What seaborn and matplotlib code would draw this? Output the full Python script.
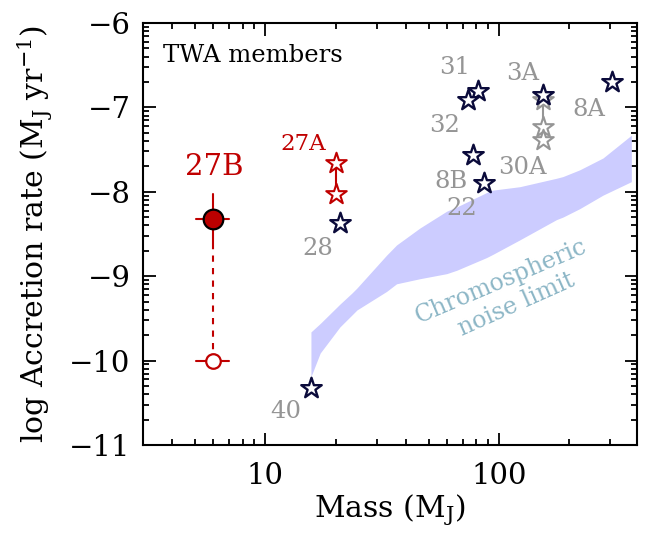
import numpy as np
import pandas as pd
import matplotlib
matplotlib.use("Agg")
import matplotlib.pyplot as plt
from matplotlib.ticker import FixedLocator, NullFormatter, LogLocator
import seaborn as sns

# --- data -----------------------------------------------------------------
# TWA members with accretion-rate measurements (mass in M_J, log Mdot in M_J/yr)
member_mass = [81.2, 73.7, 153.8, 304.0, 77.4, 86.3, 20.9, 15.7]
member_logmdot = [-6.81, -6.91, -6.85, -6.70, -7.56, -7.90, -8.37, -10.32]

# additional epochs of TWA 3A
twa3a_mass = [153.8, 153.8, 153.8]
twa3a_logmdot = [-6.91, -7.23, -7.39]

# TWA 27A (two estimates)
twa27a_mass = [20.0, 20.0]
twa27a_logmdot = [-7.66, -8.03]

# TWA 27B: measured value with error bars, and lower estimate
twa27b_mass = 6.0
twa27b_logmdot = -8.32
twa27b_yerr = 0.29
twa27b_mass_lo, twa27b_mass_hi = 5.04, 7.03
twa27b_low_logmdot = -10.0

# chromospheric noise limit band
band_mass = [15.7, 17.2, 20.9, 23.5, 24.7, 33.1, 36.5, 45.9, 59.8, 66.0, 88.5,
             94.5, 122.9, 176.4, 188.0, 221.9, 279.0, 369.0]
band_upper = [-9.66, -9.56, -9.33, -9.20, -9.14, -8.75, -8.63, -8.43, -8.23,
              -8.18, -8.01, -7.98, -7.94, -7.84, -7.82, -7.74, -7.60, -7.33]
band_lower = [-10.19, -9.91, -9.60, -9.46, -9.40, -9.18, -9.09, -9.03, -8.97,
              -8.93, -8.78, -8.74, -8.57, -8.33, -8.30, -8.20, -8.04, -7.88]

# labels: text, mass, log Mdot
gray_labels = [("31", 64.9, -6.53), ("3A", 126.6, -6.60), ("8A", 242.4, -7.02),
               ("32", 58.7, -7.22), ("30A", 126.6, -7.71), ("8B", 62.4, -7.88),
               ("22", 69.5, -8.20), ("28", 16.85, -8.67), ("40", 12.3, -10.60)]

NAVY = "#0b0b3b"
GRAY = "#959595"
RED = "#c00000"
BAND = "#ccccff"
TEAL = "#8cb6c6"

# --- figure -----------------------------------------------------------------
sns.set_style("white")
plt.rcParams["font.family"] = ["DejaVu Serif"]
plt.rcParams["mathtext.fontset"] = "dejavuserif"

fig = plt.figure(figsize=(6.47, 5.33), dpi=100)
ax = fig.add_axes([0.221, 0.165, 0.7635, 0.792])
ax.set_xscale("log")

band = pd.DataFrame({"mass": band_mass, "upper": band_upper, "lower": band_lower})
ax.fill_between(band["mass"], band["lower"], band["upper"], color=BAND,
                linewidth=0, zorder=1)

# TWA 3A extra epochs joined by a line
sns.lineplot(x=twa3a_mass, y=twa3a_logmdot, color=GRAY, lw=1.5, ax=ax,
             sort=False, estimator=None, zorder=2)
sns.scatterplot(x=twa3a_mass, y=twa3a_logmdot, marker="*", s=240,
                facecolor="white", edgecolor=GRAY, linewidth=1.5, ax=ax, zorder=3)

# TWA 27A
sns.lineplot(x=twa27a_mass, y=twa27a_logmdot, color=RED, lw=1.5, ax=ax,
             sort=False, estimator=None, zorder=2)
sns.scatterplot(x=twa27a_mass, y=twa27a_logmdot, marker="*", s=240,
                facecolor="white", edgecolor=RED, linewidth=1.5, ax=ax, zorder=3)

# other members
sns.scatterplot(x=member_mass, y=member_logmdot, marker="*", s=240,
                facecolor="white", edgecolor=NAVY, linewidth=1.7, ax=ax, zorder=4)

# TWA 27B
ax.plot([twa27b_mass, twa27b_mass],
        [twa27b_logmdot - twa27b_yerr, twa27b_low_logmdot],
        color=RED, lw=1.5, ls=(0, (3, 3)), zorder=2)
ax.plot([twa27b_mass, twa27b_mass],
        [twa27b_logmdot - twa27b_yerr, twa27b_logmdot + twa27b_yerr],
        color=RED, lw=1.5, zorder=2)
for yv in (twa27b_logmdot, twa27b_low_logmdot):
    ax.plot([twa27b_mass_lo, twa27b_mass_hi], [yv, yv], color=RED, lw=1.5, zorder=2)
sns.scatterplot(x=[twa27b_mass], y=[twa27b_low_logmdot], s=110, marker="o",
                facecolor="white", edgecolor=RED, linewidth=1.6, ax=ax, zorder=5)
sns.scatterplot(x=[twa27b_mass], y=[twa27b_logmdot], s=200, marker="o",
                facecolor="#bb0000", edgecolor="black", linewidth=1.6, ax=ax, zorder=5)

# labels
for txt, xm, yv in gray_labels:
    ax.text(xm, yv, txt, color=GRAY, fontsize=17.5, ha="center", va="center")
ax.text(14.5, -7.43, "27A", color=RED, fontsize=16.5, ha="center", va="center")
ax.text(6.05, -7.71, "27B", color=RED, fontsize=21, ha="center", va="center")
ax.text(3.66, -6.39, "TWA members", color="black", fontsize=17.5, ha="left",
        va="center")
ax.text(101.8, -9.06, "Chromospheric", color=TEAL, fontsize=17, rotation=23,
        ha="center", va="center", rotation_mode="anchor")
ax.text(119, -9.34, "noise limit", color=TEAL, fontsize=17, rotation=24,
        ha="center", va="center", rotation_mode="anchor")

# axes
ax.set_xlim(3.0, 390)
ax.set_ylim(-11, -6)
ax.set_xticks([10, 100])
ax.set_xticklabels(["10", "100"])
ax.xaxis.set_minor_locator(LogLocator(base=10, subs=np.arange(2, 10)))
ax.xaxis.set_minor_formatter(NullFormatter())
ax.set_yticks([-11, -10, -9, -8, -7, -6])
ax.set_yticklabels(["\u221211", "\u221210", "\u22129", "\u22128", "\u22127", "\u22126"])
ytick_minor = [-n - 1 + np.log10(k) for n in range(6, 11) for k in range(2, 10)]
ax.yaxis.set_minor_locator(FixedLocator(ytick_minor))

ax.tick_params(which="both", direction="in", top=True, right=True, bottom=True,
               left=True, width=1.3, labelsize=21, color="black",
               labelcolor="black")
ax.tick_params(which="major", length=9)
ax.tick_params(axis="x", which="major", pad=12)
ax.tick_params(axis="y", which="major", pad=9)
ax.tick_params(which="minor", length=4.5)
for sp in ax.spines.values():
    sp.set_linewidth(1.5)
    sp.set_color("black")

ax.set_xlabel(r"Mass (M$_{\rm J}$)", fontsize=21.5, labelpad=2, color="black")
ax.set_ylabel(r"log Accretion rate (M$_{\rm J}$ yr$^{-1}$)", fontsize=21.5,
              labelpad=10, color="black")

fig.savefig("out.png", dpi=100)
